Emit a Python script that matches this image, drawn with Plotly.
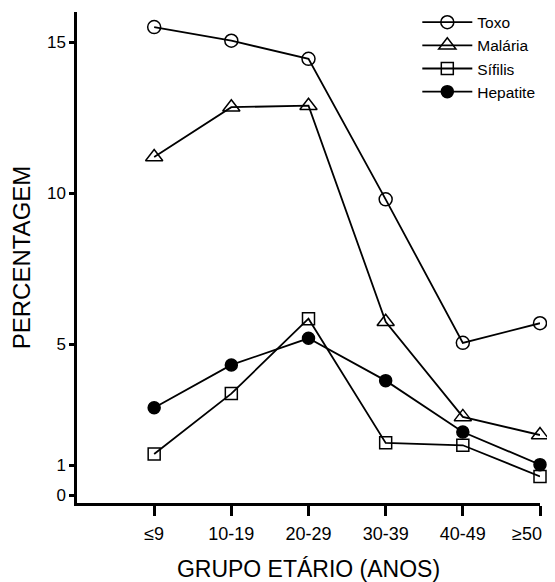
import plotly.graph_objects as go

categories = ["≤9", "10-19", "20-29", "30-39", "40-49", "≥50"]
toxo = [15.5, 15.05, 14.45, 9.8, 5.05, 5.7]
malaria = [11.2, 12.85, 12.9, 5.75, 2.6, 2.0]
sifilis = [1.37, 3.37, 5.85, 1.74, 1.66, 0.63]
hepatite = [2.9, 4.32, 5.2, 3.8, 2.1, 1.02]
y_ticks = [0, 1, 5, 10, 15]

xs = list(range(len(categories)))
# the last label sits left of its tick in the original (page edge),
# so it is drawn as an annotation anchored at its category
tick_text = categories[:-1] + [""]

series = [
    ("Toxo", toxo, "circle-open", 13),
    ("Malária", malaria, "triangle-up-open", 15),
    ("Sífilis", sifilis, "square-open", 12),
    ("Hepatite", hepatite, "circle", 12),
]

fig = go.Figure()
for name, vals, sym, sz in series:
    fig.add_trace(go.Scatter(
        x=xs, y=vals, name=name, mode="lines+markers",
        line=dict(color="black", width=1.8),
        marker=dict(symbol=sym, size=sz, color="black",
                    line=dict(color="black", width=1.5)),
        cliponaxis=False,
    ))

fig.add_annotation(
    x=xs[-1], xref="x", y=0, yref="paper",
    text=categories[-1], showarrow=False,
    xanchor="center", yanchor="middle", xshift=-13, yshift=-31,
    font=dict(size=18, color="black"),
)

font_family = "Liberation Sans, Arial, sans-serif"
# page body has an 8px margin, so the figure is 547x574 to fit the window
fig.update_layout(
    width=547, height=574,
    margin=dict(l=69, r=15, t=4, b=79, autoexpand=False),
    paper_bgcolor="white", plot_bgcolor="white",
    font=dict(family=font_family, color="black"),
    showlegend=True,
    legend=dict(x=0.735, y=1.013, xanchor="left", yanchor="top",
                font=dict(size=15.5, color="black"),
                bgcolor="rgba(0,0,0,0)", itemwidth=50, tracegroupgap=0),
    xaxis=dict(
        range=[-1, 5], tickmode="array", tickvals=xs, ticktext=tick_text,
        showline=True, linecolor="black", linewidth=2.5,
        ticks="outside", ticklen=10, tickwidth=2.5, tickcolor="black",
        tickfont=dict(size=18), showgrid=False, zeroline=False,
        automargin=False, ticklabelstandoff=3,
        title=dict(text="GRUPO ETÁRIO (ANOS)", font=dict(size=23), standoff=19),
    ),
    yaxis=dict(
        range=[-0.25, 16], tickmode="array", tickvals=y_ticks,
        ticktext=[str(v) for v in y_ticks],
        showline=True, linecolor="black", linewidth=2.5,
        ticks="outside", ticklen=5, tickwidth=2.5, tickcolor="black",
        tickfont=dict(size=17), showgrid=False, zeroline=False,
        automargin=False,
        title=dict(text="PERCENTAGEM", font=dict(size=24), standoff=12),
    ),
)

fig.write_html("out.html")
